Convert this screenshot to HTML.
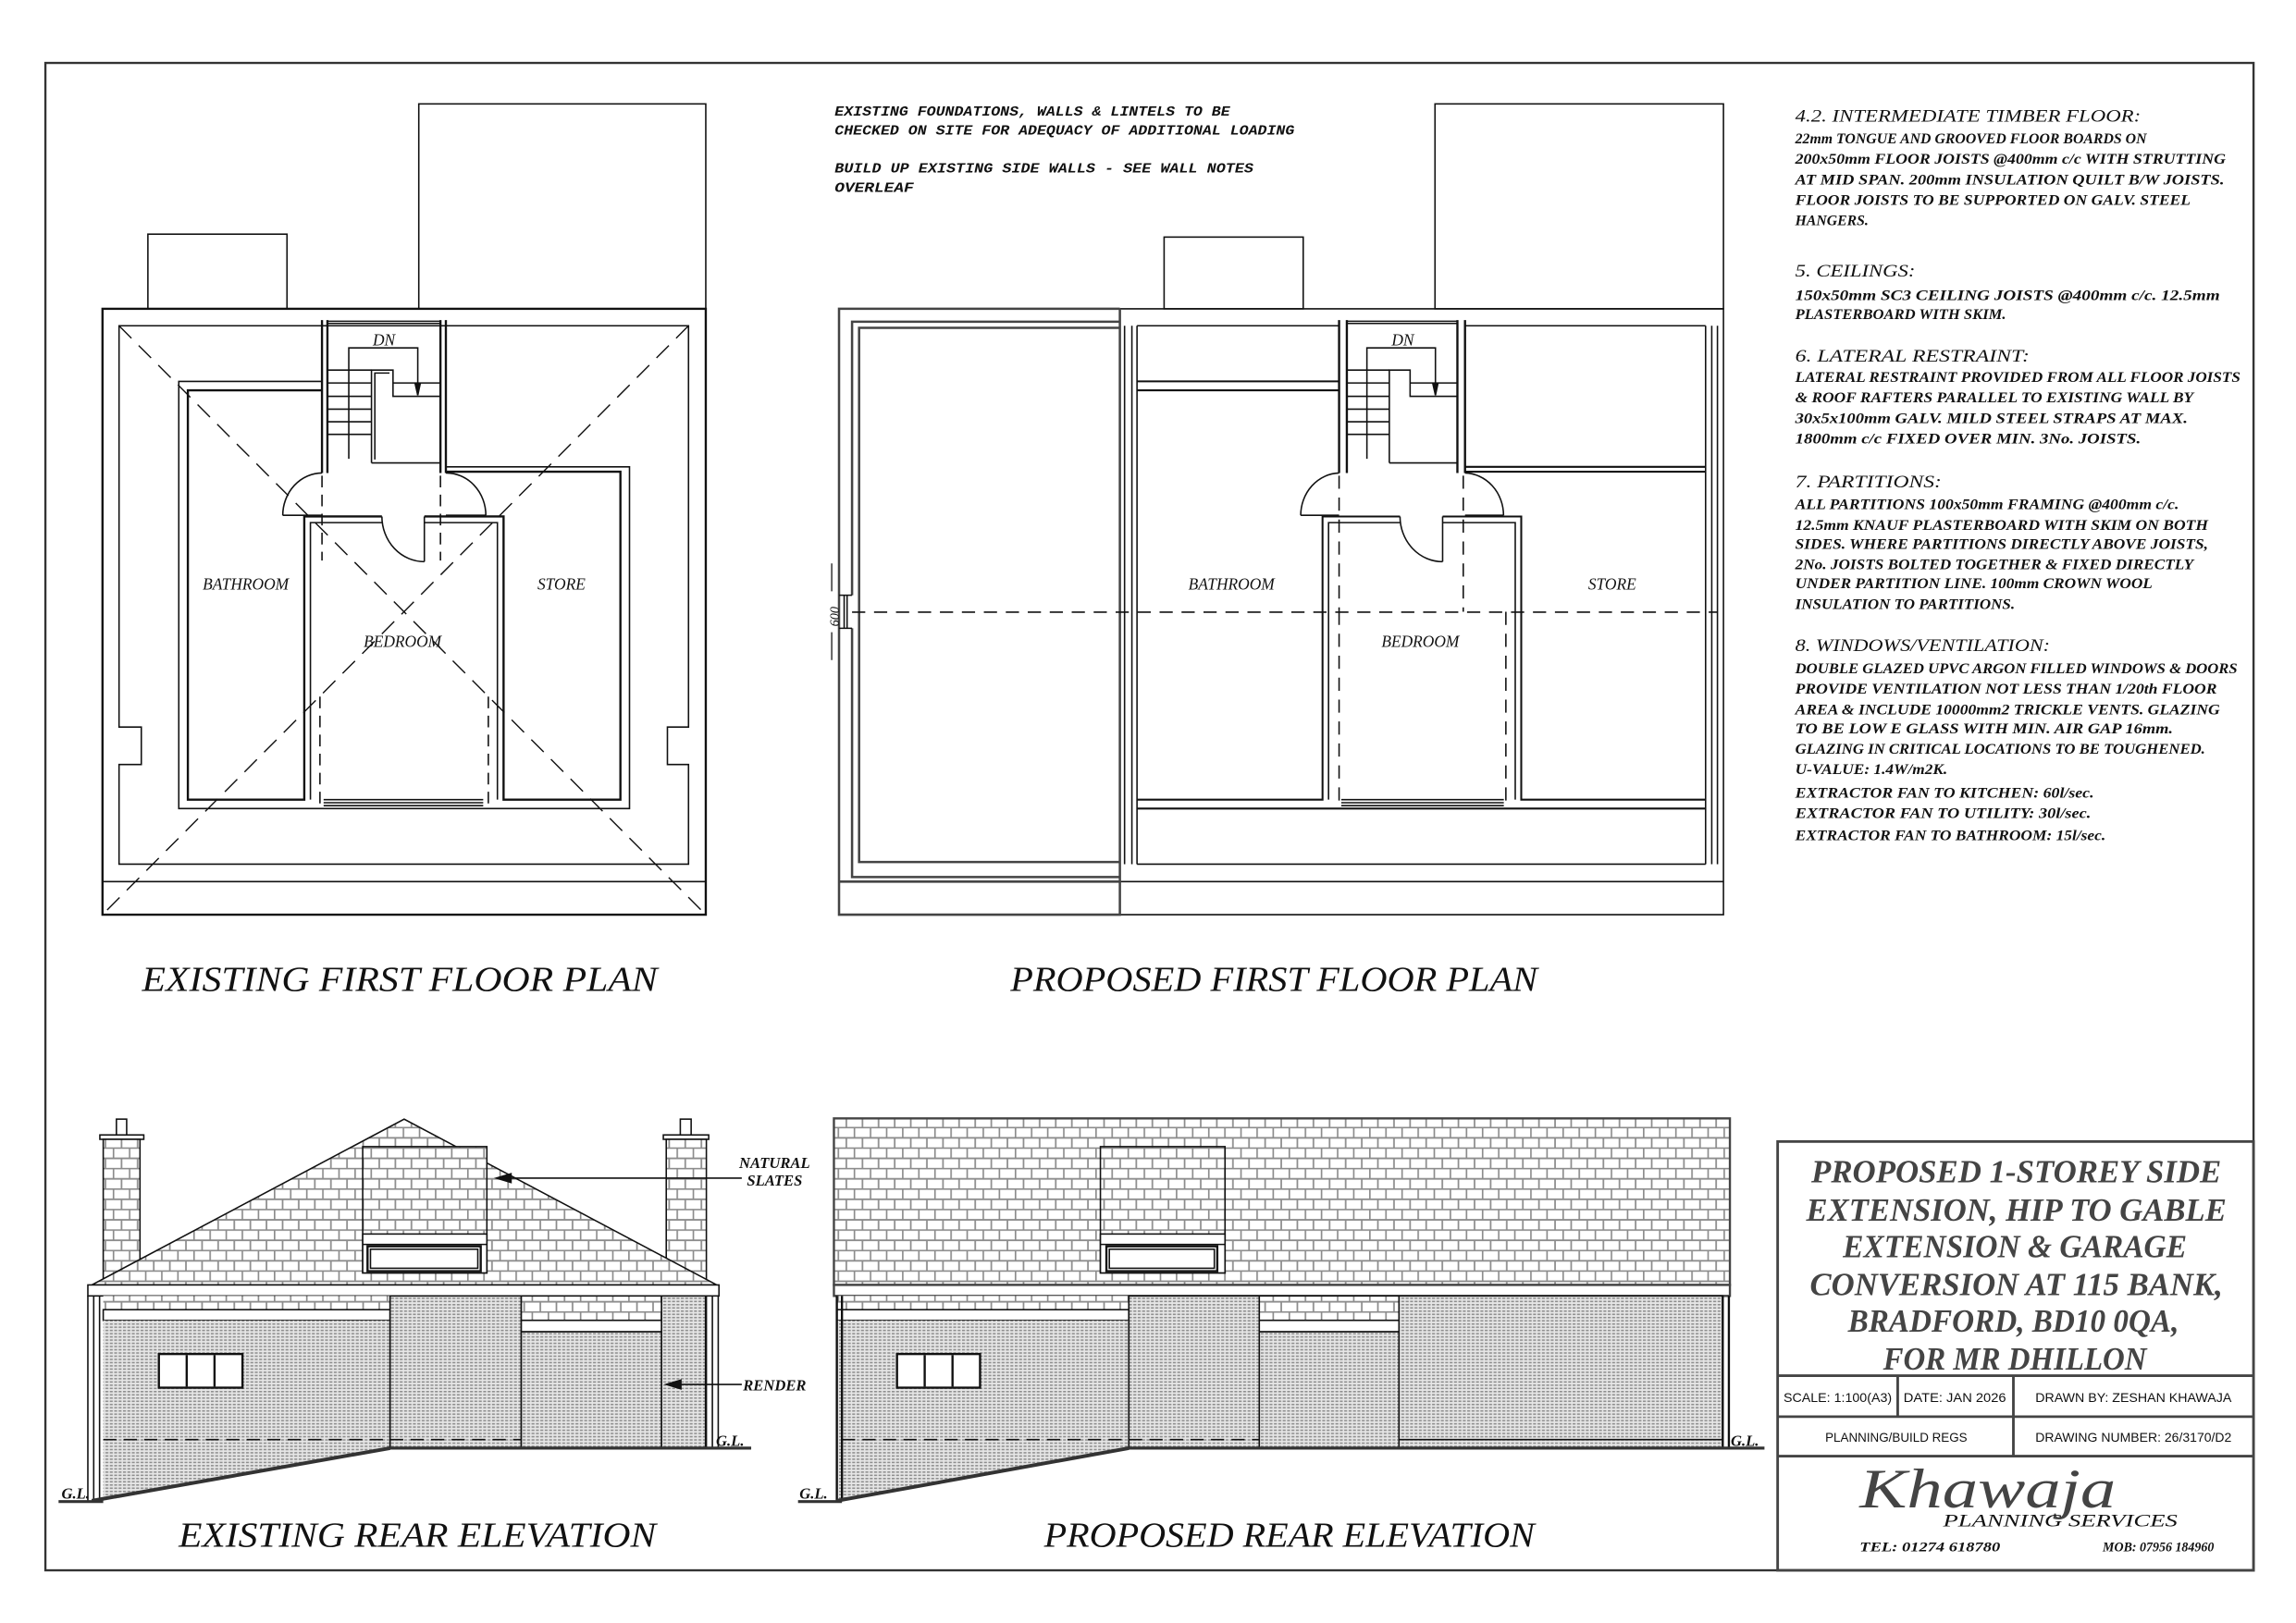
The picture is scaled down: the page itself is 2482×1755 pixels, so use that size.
<!DOCTYPE html>
<html><head><meta charset="utf-8">
<style>
html,body{margin:0;padding:0;background:#fff;}
svg{display:block;}
text{font-family:"Liberation Serif",serif;font-style:italic;fill:#111;}
.m{font-family:"Liberation Mono",monospace;}
.s{font-family:"Liberation Sans",sans-serif;font-style:normal;}
</style></head>
<body>
<svg width="2482" height="1755" viewBox="0 0 1568 1109" preserveAspectRatio="none" xmlns="http://www.w3.org/2000/svg">
<defs>
<pattern id="sl" width="11" height="14" patternUnits="userSpaceOnUse">
<rect width="11" height="14" fill="#fff"/>
<path d="M0 0.5H11M0 7.5H11M0.5 0.5V7.5M6 7.5V14" stroke="#8c8c8c" stroke-width="1.1" fill="none"/>
</pattern>
<pattern id="rd" width="3" height="2.2" patternUnits="userSpaceOnUse">
<rect width="3" height="2.2" fill="#e6e6e6"/>
<rect width="2" height="1" fill="#8f8f8f"/>
</pattern>
</defs>
<rect width="1568" height="1109" fill="#fff"/>
<!-- border -->
<rect x="31" y="43" width="1508" height="1030" fill="none" stroke="#333" stroke-width="1.5"/>

<!-- ===== EXISTING PLAN ===== -->
<g fill="none" stroke="#111" stroke-width="1">
<rect x="101" y="160" width="95" height="51"/>
<rect x="286" y="71" width="196" height="140"/>
<rect x="70" y="211" width="412" height="414" stroke-width="1.5"/>
<line x1="70" y1="602.4" x2="482" y2="602.4"/>
<path d="M81.3 222.6H470.2V496.8H455.8V522.4H470.2V590.5H81.3V522.4H96.5V496.8H81.3Z"/>
<g stroke-dasharray="12 7" stroke-width="0.9">
<line x1="81.3" y1="222.6" x2="482" y2="625"/>
<line x1="470.2" y1="222.6" x2="70" y2="625"/>
</g>
<!-- bathroom -->
<path d="M219.9 260.6H122.1V552.5H429.9V319H304.5"/>
<path d="M219.9 266.7H128.3V546.4H207.8V352.9H260.8M289.8 352.9H343.9V546.4H423.7V322.3H304.5" stroke-width="1.5"/>
<path d="M212 546.4V357.1H260.8M289.8 357.1H339.7V546.4"/>
<line x1="289.8" y1="352.9" x2="289.8" y2="383.8"/>
<path d="M260.8 352.9A29 31 0 0 0 289.8 383.8"/>
<path d="M193.1 352.1A27 29 0 0 1 219.9 323.2M193.1 352.1H219.9"/>
<path d="M304.5 323.2A27 29 0 0 1 331.8 352.1M304.5 352.1H331.8"/>
<!-- stair -->
<path d="M219.9 218.7V323.2M223.6 218.7V323.2M300.8 218.7V323.2M304.5 218.7V323.2" stroke-width="1.5"/>
<path d="M223.6 219.5H300.8M223.6 221H300.8"/>
<path d="M238.2 313.5V237.7H285.3V270"/>
<path d="M253.7 316.3V252.9H268.4V270.8H300.8M253.7 316.3H300.8M256 314V254.9H266"/>
<path d="M223.6 252.9H253.7M223.6 261.7H253.7M223.6 270.8H253.7M223.6 279.6H253.7M223.6 288.2H253.7M223.6 296.8H253.7M268.4 261.7H300.8"/>
<polygon points="283.5,262 287,262 285.3,270" fill="#111"/>
<g stroke-dasharray="8 5"><line x1="219.9" y1="325" x2="219.9" y2="383"/><line x1="300.8" y1="325" x2="300.8" y2="383"/>
<line x1="218.5" y1="476" x2="218.5" y2="552"/><line x1="333.5" y1="476" x2="333.5" y2="552"/></g>
<path d="M221 546.4H330M221 548.5H330M221 550.5H330"/>
</g>
<text x="167.8" y="403" font-size="11" text-anchor="middle">BATHROOM</text>
<text x="383.4" y="403" font-size="11" text-anchor="middle">STORE</text>
<text x="274.9" y="442" font-size="11" text-anchor="middle">BEDROOM</text>
<text x="262.2" y="236" font-size="11" text-anchor="middle">DN</text>
<text x="97" y="677" font-size="24" textLength="352" lengthAdjust="spacingAndGlyphs">EXISTING FIRST FLOOR PLAN</text>

<!-- ===== PROPOSED PLAN ===== -->
<g fill="none" stroke="#111" stroke-width="1">
<rect x="795" y="162" width="95" height="49"/>
<rect x="980" y="71" width="197" height="140"/>
<path d="M764.8 211H1177V625H764.8"/>
<line x1="764.8" y1="602.4" x2="1177" y2="602.4"/>
<g stroke="#444" stroke-width="1.6">
<path d="M764.8 211H573V625H764.8V211"/>
<line x1="573" y1="602.4" x2="764.8" y2="602.4"/>
<path d="M764.8 219.8H581.9V406.7M581.9 429.3V599.3H764.8"/>
<path d="M764.8 224H586.7V589H764.8"/>
</g>
<path d="M573 406.7H581.9M573 429.3H581.9M576.5 406.7V429.3M578.5 406.7V429.3"/>
<path d="M568 385V404M568 432V451" stroke-width="0.8"/>
<path d="M768 222.6V590.5M773 222.6V590.5M776.5 222.6V590.5"/>
<path d="M1164.8 222.6V590.5M1169 222.6V590.5M1172.9 222.6V590.5"/>
<path d="M776.5 222.6H914.5M1000.5 222.6H1164.8M776.5 590.5H1164.8"/>
<path d="M776.5 260.6H914.5M776.5 266.7H914.5" stroke-width="1.3"/>
<path d="M1000.5 319H1164.8M1000.5 322.3H1164.8" stroke-width="1.3"/>
<path d="M776.5 546.4H903.2V352.9H956.1M985.2 352.9H1038.9V546.4H1164.8M776.5 552.5H1164.8" stroke-width="1.3"/>
<path d="M907.3 546.4V357.1H956.1M985.2 357.1H1034.8V546.4"/>
<line x1="985.2" y1="352.9" x2="985.2" y2="383.8"/>
<path d="M956.1 352.9A29 31 0 0 0 985.2 383.8"/>
<path d="M888.3 352.1A27 29 0 0 1 914.5 323.2M888.3 352.1H914.5"/>
<path d="M1000.5 323.2A27 29 0 0 1 1026.8 352.1M1000.5 352.1H1026.8"/>
<path d="M914.5 218.7V323.2M919.8 218.7V323.2M995.3 218.7V323.2M1000.5 218.7V323.2" stroke-width="1.5"/>
<path d="M919.8 219.5H995.3M919.8 221H995.3"/>
<path d="M933.5 313.5V237.7H980.3V270"/>
<path d="M948.8 316.3V252.9H963V270.8H995.3M948.8 316.3H995.3"/>
<path d="M919.8 252.9H948.8M919.8 261.7H948.8M919.8 270.8H948.8M919.8 279.6H948.8M919.8 288.2H948.8M919.8 296.8H948.8M963 261.7H995.3"/>
<polygon points="978.5,262 982,262 980.3,270" fill="#111"/>
<g stroke-dasharray="9 6">
<line x1="581.9" y1="418.3" x2="1173" y2="418.3"/>
<line x1="914.5" y1="325" x2="914.5" y2="418"/><line x1="999.3" y1="325" x2="999.3" y2="418"/>
<line x1="914.5" y1="418" x2="914.5" y2="552"/><line x1="1028.4" y1="418" x2="1028.4" y2="552"/>
</g>
<path d="M916 546.4H1027M916 548.5H1027M916 550.5H1027"/>
</g>
<text x="0" y="0" font-size="9" transform="translate(573 428) rotate(-90)">600</text>
<text x="841" y="403" font-size="11" text-anchor="middle">BATHROOM</text>
<text x="1101" y="403" font-size="11" text-anchor="middle">STORE</text>
<text x="970" y="442" font-size="11" text-anchor="middle">BEDROOM</text>
<text x="958" y="236" font-size="11" text-anchor="middle">DN</text>
<text x="690" y="677" font-size="24" textLength="360" lengthAdjust="spacingAndGlyphs">PROPOSED FIRST FLOOR PLAN</text>

<!-- top notes -->
<g class="m" font-size="9.5" font-weight="bold">
<text class="m" x="570" y="79" textLength="270" lengthAdjust="spacingAndGlyphs">EXISTING FOUNDATIONS, WALLS &amp; LINTELS TO BE</text>
<text class="m" x="570" y="92" textLength="314" lengthAdjust="spacingAndGlyphs">CHECKED ON SITE FOR ADEQUACY OF ADDITIONAL LOADING</text>
<text class="m" x="570" y="118" textLength="286" lengthAdjust="spacingAndGlyphs">BUILD UP EXISTING SIDE WALLS - SEE WALL NOTES</text>
<text class="m" x="570" y="131" textLength="54" lengthAdjust="spacingAndGlyphs">OVERLEAF</text>
</g>

<!-- right notes -->
<g font-size="12">
<text x="1226" y="83" textLength="236" lengthAdjust="spacingAndGlyphs">4.2. INTERMEDIATE TIMBER FLOOR:</text>
<text x="1226" y="189" textLength="82" lengthAdjust="spacingAndGlyphs">5. CEILINGS:</text>
<text x="1226" y="247" textLength="160" lengthAdjust="spacingAndGlyphs">6. LATERAL RESTRAINT:</text>
<text x="1226" y="333" textLength="100" lengthAdjust="spacingAndGlyphs">7. PARTITIONS:</text>
<text x="1226" y="445" textLength="174" lengthAdjust="spacingAndGlyphs">8. WINDOWS/VENTILATION:</text>
</g>
<g font-size="10" font-weight="bold">
<text x="1226" y="98" textLength="240" lengthAdjust="spacingAndGlyphs">22mm TONGUE AND GROOVED FLOOR BOARDS ON</text>
<text x="1226" y="112" textLength="294" lengthAdjust="spacingAndGlyphs">200x50mm FLOOR JOISTS @400mm c/c WITH STRUTTING</text>
<text x="1226" y="126" textLength="293" lengthAdjust="spacingAndGlyphs">AT MID SPAN. 200mm INSULATION QUILT B/W JOISTS.</text>
<text x="1226" y="140" textLength="270" lengthAdjust="spacingAndGlyphs">FLOOR JOISTS TO BE SUPPORTED ON GALV. STEEL</text>
<text x="1226" y="154" textLength="50" lengthAdjust="spacingAndGlyphs">HANGERS.</text>
<text x="1226" y="205" textLength="290" lengthAdjust="spacingAndGlyphs">150x50mm SC3 CEILING JOISTS @400mm c/c. 12.5mm</text>
<text x="1226" y="218" textLength="144" lengthAdjust="spacingAndGlyphs">PLASTERBOARD WITH SKIM.</text>
<text x="1226" y="261" textLength="304" lengthAdjust="spacingAndGlyphs">LATERAL RESTRAINT PROVIDED FROM ALL FLOOR JOISTS</text>
<text x="1226" y="275" textLength="272" lengthAdjust="spacingAndGlyphs">&amp; ROOF RAFTERS PARALLEL TO EXISTING WALL BY</text>
<text x="1226" y="289" textLength="268" lengthAdjust="spacingAndGlyphs">30x5x100mm GALV. MILD STEEL STRAPS AT MAX.</text>
<text x="1226" y="303" textLength="236" lengthAdjust="spacingAndGlyphs">1800mm c/c FIXED OVER MIN. 3No. JOISTS.</text>
<text x="1226" y="348" textLength="262" lengthAdjust="spacingAndGlyphs">ALL PARTITIONS 100x50mm FRAMING @400mm c/c.</text>
<text x="1226" y="362" textLength="282" lengthAdjust="spacingAndGlyphs">12.5mm KNAUF PLASTERBOARD WITH SKIM ON BOTH</text>
<text x="1226" y="375" textLength="282" lengthAdjust="spacingAndGlyphs">SIDES. WHERE PARTITIONS DIRECTLY ABOVE JOISTS,</text>
<text x="1226" y="389" textLength="272" lengthAdjust="spacingAndGlyphs">2No. JOISTS BOLTED TOGETHER &amp; FIXED DIRECTLY</text>
<text x="1226" y="402" textLength="244" lengthAdjust="spacingAndGlyphs">UNDER PARTITION LINE. 100mm CROWN WOOL</text>
<text x="1226" y="416" textLength="150" lengthAdjust="spacingAndGlyphs">INSULATION TO PARTITIONS.</text>
<text x="1226" y="460" textLength="302" lengthAdjust="spacingAndGlyphs">DOUBLE GLAZED UPVC ARGON FILLED WINDOWS &amp; DOORS</text>
<text x="1226" y="474" textLength="288" lengthAdjust="spacingAndGlyphs">PROVIDE VENTILATION NOT LESS THAN 1/20th FLOOR</text>
<text x="1226" y="488" textLength="290" lengthAdjust="spacingAndGlyphs">AREA &amp; INCLUDE 10000mm2 TRICKLE VENTS. GLAZING</text>
<text x="1226" y="501" textLength="258" lengthAdjust="spacingAndGlyphs">TO BE LOW E GLASS WITH MIN. AIR GAP 16mm.</text>
<text x="1226" y="515" textLength="280" lengthAdjust="spacingAndGlyphs">GLAZING IN CRITICAL LOCATIONS TO BE TOUGHENED.</text>
<text x="1226" y="529" textLength="104" lengthAdjust="spacingAndGlyphs">U-VALUE: 1.4W/m2K.</text>
<text x="1226" y="545" textLength="204" lengthAdjust="spacingAndGlyphs">EXTRACTOR FAN TO KITCHEN: 60l/sec.</text>
<text x="1226" y="559" textLength="202" lengthAdjust="spacingAndGlyphs">EXTRACTOR FAN TO UTILITY: 30l/sec.</text>
<text x="1226" y="574" textLength="212" lengthAdjust="spacingAndGlyphs">EXTRACTOR FAN TO BATHROOM: 15l/sec.</text>
</g>

<!-- ===== EXISTING ELEVATION ===== -->
<g stroke="#111" stroke-width="1">
<!-- chimneys -->
<rect x="79.5" y="764.7" width="7" height="11" fill="#fff"/>
<rect x="68.2" y="775.5" width="30" height="3" fill="#fff"/>
<rect x="70.5" y="778.5" width="25.1" height="100" fill="url(#sl)"/>
<rect x="464.6" y="764.7" width="7.4" height="11" fill="#fff"/>
<rect x="453" y="775.5" width="31" height="3" fill="#fff"/>
<rect x="455" y="778.5" width="27.4" height="100" fill="url(#sl)"/>
<polygon points="62.7,878 276,764.7 489.5,878" fill="url(#sl)"/>
<rect x="247.7" y="783.5" width="84.8" height="86.3" fill="url(#sl)"/>
<rect x="247.7" y="843.2" width="84.8" height="26.6" fill="#fff"/>
<line x1="247.7" y1="850.3" x2="332.5" y2="850.3"/>
<rect x="251" y="851.6" width="77.3" height="17" fill="#fff" stroke-width="1.5"/>
<rect x="253" y="853.6" width="73.3" height="13" fill="none"/>
<rect x="60" y="878" width="431" height="7.5" fill="#fff"/>
<!-- walls -->
<rect x="70.5" y="885.5" width="195.9" height="9.4" fill="url(#sl)" stroke="none"/>
<rect x="70.5" y="894.9" width="195.9" height="7.3" fill="#fff"/>
<polygon points="70.5,902.2 266.4,902.2 266.4,989.5 70.5,1025.5" fill="url(#rd)" stroke="none"/>
<rect x="266.4" y="885.5" width="89.6" height="104" fill="url(#rd)"/>
<rect x="356" y="885.5" width="95.8" height="16.7" fill="url(#sl)"/>
<rect x="356" y="902.2" width="95.8" height="7.8" fill="#fff"/>
<rect x="356" y="910" width="95.8" height="79.5" fill="url(#rd)"/>
<rect x="451.8" y="885.5" width="30" height="104" fill="url(#rd)"/>
<line x1="266.4" y1="885.5" x2="266.4" y2="989.5"/>
<!-- pipes -->
<path d="M60 885.5V1025.5M64 885.5V1025.5M68 885.5V1025.5" fill="none"/>
<path d="M482.4 885.5V989M486.5 885.5V989M490.5 885.5V989" fill="none"/>
<line x1="266.4" y1="989.5" x2="62.7" y2="1025.5" stroke-width="2.5" stroke="#333"/>
<line x1="266.4" y1="989.5" x2="513" y2="989.5" stroke-width="2" stroke="#333"/>
<line x1="40" y1="1026" x2="70.5" y2="1026" stroke-width="2" stroke="#333"/>
<line x1="70.5" y1="983.7" x2="266.4" y2="983.7" stroke-dasharray="9 5"/>
<line x1="266.4" y1="983.7" x2="356" y2="983.7" stroke-dasharray="9 5"/>
<!-- window -->
<rect x="108.5" y="925.2" width="57.1" height="23" fill="#fff" stroke-width="1.5"/>
<path d="M127.5 926V947.5M146.5 926V947.5" fill="none" stroke-width="1.5"/>
<!-- arrows -->
<line x1="506.6" y1="805" x2="345" y2="805"/>
<polygon points="339,805 349,802 349,808" fill="#111"/>
<line x1="506.6" y1="946" x2="460" y2="946"/>
<polygon points="455,946 465,943 465,949" fill="#111"/>
</g>
<text x="529" y="798" font-size="10.5" font-weight="bold" text-anchor="middle">NATURAL</text>
<text x="529" y="810" font-size="10.5" font-weight="bold" text-anchor="middle">SLATES</text>
<text x="529" y="950" font-size="10.5" font-weight="bold" text-anchor="middle">RENDER</text>
<text x="489" y="988" font-size="10.5" font-weight="bold">G.L.</text>
<text x="42" y="1024" font-size="10.5" font-weight="bold">G.L.</text>
<text x="122" y="1057" font-size="24" textLength="326" lengthAdjust="spacingAndGlyphs">EXISTING REAR ELEVATION</text>

<!-- ===== PROPOSED ELEVATION ===== -->
<g stroke="#111" stroke-width="1">
<rect x="569.5" y="764.2" width="611.9" height="113.8" fill="url(#sl)" stroke="#444" stroke-width="1.5"/>
<rect x="751.5" y="783.5" width="85.1" height="86.3" fill="url(#sl)"/>
<rect x="751.5" y="843.2" width="85.1" height="26.6" fill="#fff"/>
<line x1="751.5" y1="850.3" x2="836.6" y2="850.3"/>
<rect x="755.6" y="851.6" width="75.7" height="17" fill="#fff" stroke-width="1.5"/>
<rect x="757.6" y="853.6" width="71.7" height="13" fill="none"/>
<rect x="569.5" y="878" width="611.9" height="7.5" fill="#fff" stroke="#444" stroke-width="1.5"/>
<rect x="571.5" y="885.5" width="199.4" height="9.4" fill="url(#sl)" stroke="none"/>
<rect x="571.5" y="894.9" width="199.4" height="7.3" fill="#fff"/>
<polygon points="571.5,902.2 770.9,902.2 770.9,989.5 571.5,1025.5" fill="url(#rd)" stroke="none"/>
<rect x="770.9" y="885.5" width="89.1" height="104" fill="url(#rd)"/>
<rect x="860" y="885.5" width="95.4" height="16.7" fill="url(#sl)"/>
<rect x="860" y="902.2" width="95.4" height="7.8" fill="#fff"/>
<rect x="860" y="910" width="95.4" height="79.5" fill="url(#rd)"/>
<rect x="955.4" y="885.5" width="221.1" height="104" fill="url(#rd)"/>
<line x1="770.9" y1="885.5" x2="770.9" y2="989.5"/>
<path d="M571.5 885.5V1025.5M575 885.5V1025.5" fill="none" stroke-width="1.5"/>
<path d="M1176.5 885.5V989.5M1180.7 885.5V989.5" fill="none" stroke-width="1.5"/>
<line x1="770.9" y1="989.5" x2="571.5" y2="1025.5" stroke-width="2.5" stroke="#333"/>
<line x1="770.9" y1="989.5" x2="1205" y2="989.5" stroke-width="2" stroke="#333"/>
<line x1="545" y1="1026" x2="575" y2="1026" stroke-width="2" stroke="#333"/>
<line x1="575" y1="983.7" x2="860" y2="983.7" stroke-dasharray="9 5"/>
<line x1="955.4" y1="983.7" x2="1176.5" y2="983.7"/>
<rect x="612.6" y="925.2" width="56.7" height="23" fill="#fff" stroke-width="1.5"/>
<path d="M631.5 926V947.5M650.5 926V947.5" fill="none" stroke-width="1.5"/>
</g>
<text x="1182" y="988" font-size="10.5" font-weight="bold">G.L.</text>
<text x="546" y="1024" font-size="10.5" font-weight="bold">G.L.</text>
<text x="713" y="1057" font-size="24" textLength="335" lengthAdjust="spacingAndGlyphs">PROPOSED REAR ELEVATION</text>

<!-- ===== TITLE BLOCK ===== -->
<g fill="none" stroke="#444" stroke-width="1.8">
<rect x="1214" y="780" width="325" height="293"/>
<line x1="1214" y1="940" x2="1539" y2="940"/>
<line x1="1214" y1="968" x2="1539" y2="968"/>
<line x1="1214" y1="995" x2="1539" y2="995"/>
<line x1="1296" y1="940" x2="1296" y2="968"/>
<line x1="1375" y1="940" x2="1375" y2="995"/>
</g>
<g font-size="22" font-weight="bold" text-anchor="middle" style="fill:#444">
<text x="1377" y="808" textLength="280" lengthAdjust="spacingAndGlyphs" style="fill:#444">PROPOSED 1-STOREY SIDE</text>
<text x="1377" y="834" textLength="287" lengthAdjust="spacingAndGlyphs" style="fill:#444">EXTENSION, HIP TO GABLE</text>
<text x="1376" y="859" textLength="235" lengthAdjust="spacingAndGlyphs" style="fill:#444">EXTENSION &amp; GARAGE</text>
<text x="1377" y="885" textLength="282" lengthAdjust="spacingAndGlyphs" style="fill:#444">CONVERSION AT 115 BANK,</text>
<text x="1375" y="910" textLength="226" lengthAdjust="spacingAndGlyphs" style="fill:#444">BRADFORD, BD10 0QA,</text>
<text x="1376" y="936" textLength="180" lengthAdjust="spacingAndGlyphs" style="fill:#444">FOR MR DHILLON</text>
</g>
<g class="s" font-size="9">
<text class="s" x="1255" y="958" text-anchor="middle" textLength="74" lengthAdjust="spacingAndGlyphs">SCALE:  1:100(A3)</text>
<text class="s" x="1335" y="958" text-anchor="middle" textLength="70" lengthAdjust="spacingAndGlyphs">DATE:  JAN 2026</text>
<text class="s" x="1457" y="958" text-anchor="middle" textLength="134" lengthAdjust="spacingAndGlyphs">DRAWN BY: ZESHAN KHAWAJA</text>
<text class="s" x="1295" y="985" text-anchor="middle" textLength="97" lengthAdjust="spacingAndGlyphs">PLANNING/BUILD REGS</text>
<text class="s" x="1457" y="985" text-anchor="middle" textLength="134" lengthAdjust="spacingAndGlyphs">DRAWING NUMBER: 26/3170/D2</text>
</g>
<text x="1270" y="1030" font-size="38" textLength="175" lengthAdjust="spacingAndGlyphs" style="fill:#444">Khawaja</text>
<text x="1327" y="1043" font-size="12" textLength="160" lengthAdjust="spacingAndGlyphs">PLANNING   SERVICES</text>
<text x="1270" y="1060" font-size="9" font-weight="bold" textLength="96" lengthAdjust="spacingAndGlyphs">TEL:  01274  618780</text>
<text x="1436" y="1060" font-size="9" font-weight="bold" textLength="76" lengthAdjust="spacingAndGlyphs">MOB:  07956  184960</text>
</svg>
</body></html>
